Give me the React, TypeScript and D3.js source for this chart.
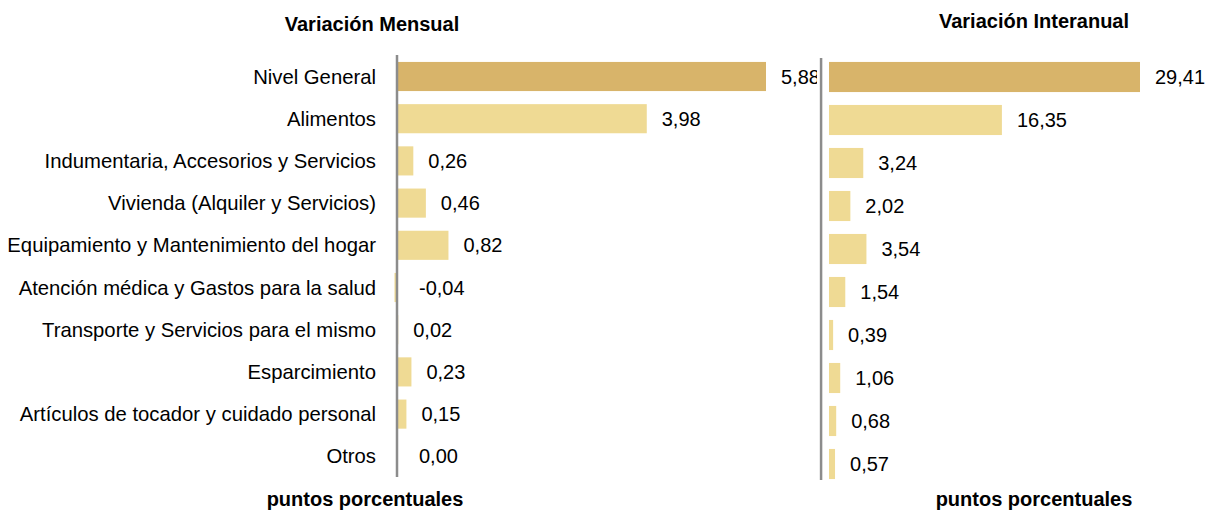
import { useEffect, useRef } from "react";
import * as d3 from "d3";

const categories = [
  "Nivel General",
  "Alimentos",
  "Indumentaria, Accesorios y Servicios",
  "Vivienda (Alquiler y Servicios)",
  "Equipamiento y Mantenimiento del hogar",
  "Atención médica y Gastos para la salud",
  "Transporte y Servicios para el mismo",
  "Esparcimiento",
  "Artículos de tocador y cuidado personal",
  "Otros",
];

const mensual = [5.88, 3.98, 0.26, 0.46, 0.82, -0.04, 0.02, 0.23, 0.15, 0.0];
const interanual = [29.41, 16.35, 3.24, 2.02, 3.54, 1.54, 0.39, 1.06, 0.68, 0.57];

const DARK = "#d8b46a";
const LIGHT = "#efda94";
const AXIS = "#8c8c8c";
const FONT = "'Liberation Sans', Arial, sans-serif";

const fmt = (v: number) => v.toFixed(2).replace(".", ",");

export default function App() {
  const svgRef = useRef<SVGSVGElement>(null);

  useEffect(() => {
    if (!svgRef.current) return;
    const svg = d3.select(svgRef.current);
    svg.selectAll("*").remove();

    // left panel: monthly change
    const xL = d3.scaleLinear().domain([0, 5.88]).range([397, 766]);
    const yL = d3
      .scaleBand<string>()
      .domain(categories)
      .range([55.4, 477.4])
      .paddingInner(0.31)
      .paddingOuter(0.155);

    // right panel: year-on-year change (axis sits at the min of the scale)
    const R_MIN = -0.75;
    const xR = d3.scaleLinear().domain([0, 29.41]).range([829, 1140]);
    const yR = d3
      .scaleBand<string>()
      .domain(categories)
      .range([55.5, 485.5])
      .paddingInner(0.3)
      .paddingOuter(0.15);

    svg
      .append("defs")
      .append("clipPath")
      .attr("id", "clipL")
      .append("rect")
      .attr("x", 0)
      .attr("y", 0)
      .attr("width", 817)
      .attr("height", 510);

    const gL = svg.append("g").attr("clip-path", "url(#clipL)");

    gL.selectAll("rect.bar")
      .data(mensual)
      .join("rect")
      .attr("class", "bar")
      .attr("x", (d) => xL(Math.min(0, d)))
      .attr("y", (_, i) => yL(categories[i])!)
      .attr("width", (d) => Math.abs(xL(d) - xL(0)))
      .attr("height", yL.bandwidth())
      .attr("fill", (_, i) => (i === 0 ? DARK : LIGHT));

    gL.selectAll("text.val")
      .data(mensual)
      .join("text")
      .attr("class", "val")
      .attr("x", (d) => xL(Math.max(0, d)) + (d <= 0 ? 22 : 15))
      .attr("y", (_, i) => yL(categories[i])! + yL.bandwidth() / 2)
      .attr("dy", "0.35em")
      .attr("font-size", 20)
      .attr("fill", "#000")
      .text((d) => fmt(d));

    svg
      .append("g")
      .selectAll("text")
      .data(categories)
      .join("text")
      .attr("x", 376)
      .attr("y", (d) => yL(d)! + yL.bandwidth() / 2)
      .attr("dy", "0.35em")
      .attr("text-anchor", "end")
      .attr("font-size", 20.3)
      .attr("fill", "#000")
      .text((d) => d);

    svg
      .append("line")
      .attr("x1", xL(0))
      .attr("x2", xL(0))
      .attr("y1", 55)
      .attr("y2", 477)
      .attr("stroke", AXIS)
      .attr("stroke-width", 2.5);

    const gR = svg.append("g");
    gR.selectAll("rect")
      .data(interanual)
      .join("rect")
      .attr("x", xR(0))
      .attr("y", (_, i) => yR(categories[i])!)
      .attr("width", (d) => xR(d) - xR(0))
      .attr("height", yR.bandwidth())
      .attr("fill", (_, i) => (i === 0 ? DARK : LIGHT));

    gR.selectAll("text")
      .data(interanual)
      .join("text")
      .attr("x", (d) => xR(d) + 15)
      .attr("y", (_, i) => yR(categories[i])! + yR.bandwidth() / 2)
      .attr("dy", "0.35em")
      .attr("font-size", 20)
      .attr("fill", "#000")
      .text((d) => fmt(d));

    svg
      .append("line")
      .attr("x1", xR(R_MIN))
      .attr("x2", xR(R_MIN))
      .attr("y1", 58)
      .attr("y2", 480)
      .attr("stroke", AXIS)
      .attr("stroke-width", 2.5);

    const titles = [
      { text: "Variación Mensual", x: 372, y: 31 },
      { text: "Variación Interanual", x: 1034, y: 28 },
      { text: "puntos porcentuales", x: 365, y: 506 },
      { text: "puntos porcentuales", x: 1034, y: 506 },
    ];
    svg
      .append("g")
      .selectAll("text")
      .data(titles)
      .join("text")
      .attr("x", (d) => d.x)
      .attr("y", (d) => d.y)
      .attr("text-anchor", "middle")
      .attr("font-size", 20)
      .attr("font-weight", "bold")
      .attr("fill", "#000")
      .text((d) => d.text);
  }, []);

  return (
    <svg
      ref={svgRef}
      width={1206}
      height={510}
      style={{ position: "absolute", left: 0, top: 0, background: "#fff", fontFamily: FONT }}
    />
  );
}
